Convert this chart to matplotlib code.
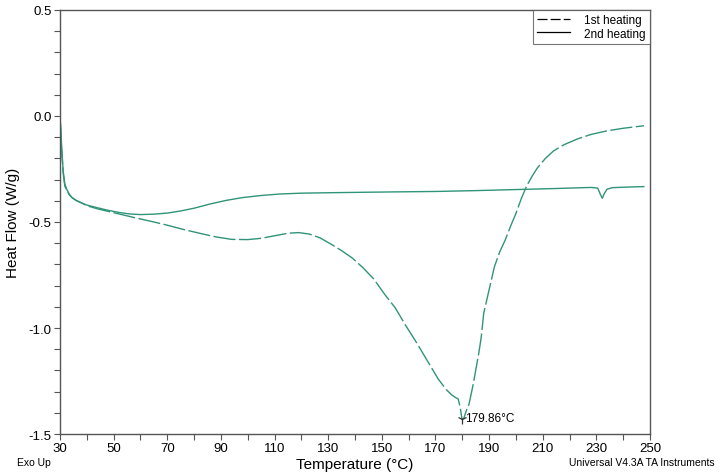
import numpy as np
import matplotlib
matplotlib.use("Agg")
import matplotlib.pyplot as plt
from matplotlib.lines import Line2D
from matplotlib.ticker import MultipleLocator, FormatStrFormatter

plt.rcParams["font.family"] = ["Liberation Sans", "DejaVu Sans"]

# ── Data ─────────────────────────────────────────────────────────────────────
t_heat2 = [30.0, 30.3, 30.6, 31.2, 31.8, 32.5, 33.5, 34.5, 36, 38, 40, 44, 48, 52,
           56, 60, 65, 70, 75, 80, 86, 92, 98, 105, 112, 120, 130, 142, 155, 170,
           185, 200, 215, 228, 230.5, 231.5, 232.2, 233, 234, 236, 240, 247.7]
hf_heat2 = [0.0, -0.06, -0.14, -0.26, -0.32, -0.345, -0.37, -0.385, -0.398, -0.41,
            -0.42, -0.433, -0.445, -0.455, -0.462, -0.465, -0.463, -0.458, -0.448,
            -0.435, -0.415, -0.398, -0.385, -0.375, -0.368, -0.364, -0.362, -0.36,
            -0.358, -0.356, -0.352, -0.347, -0.342, -0.337, -0.34, -0.37, -0.388,
            -0.365, -0.345, -0.338, -0.336, -0.333]

t_heat1 = [30.0, 30.3, 30.6, 31.2, 31.8, 32.5, 33.5, 34.5, 36, 38, 40, 44, 48, 52,
           58, 64, 70, 76, 82, 88, 94, 100, 105, 110, 115, 119, 123, 127, 131, 135,
           139, 143, 147, 151, 155, 159, 163, 167, 171, 174, 176, 177.5, 178.5,
           179.3, 179.9, 180.6, 181.5, 182.5, 184, 185, 186, 187, 188, 190, 192,
           194, 196, 198, 200, 202, 204, 206, 208, 211, 214, 218, 223, 228, 234,
           240, 247.7]
hf_heat1 = [0.0, -0.07, -0.16, -0.27, -0.33, -0.35, -0.372, -0.385, -0.398, -0.41,
            -0.423, -0.438, -0.45, -0.462, -0.48, -0.497, -0.515, -0.535, -0.553,
            -0.57, -0.582, -0.583, -0.577, -0.565, -0.553, -0.55, -0.557, -0.575,
            -0.604, -0.635, -0.67, -0.716, -0.769, -0.84, -0.905, -0.99, -1.07,
            -1.155, -1.24, -1.29, -1.315, -1.328, -1.335, -1.38, -1.43, -1.425,
            -1.39, -1.36, -1.27, -1.2, -1.13, -1.05, -0.93, -0.82, -0.71, -0.64,
            -0.585, -0.52, -0.46, -0.39, -0.33, -0.285, -0.245, -0.2, -0.165,
            -0.135, -0.108, -0.087, -0.07, -0.058, -0.046]

peak_t, peak_hf = 179.86, -1.43
peak_label = "179.86°C"

x_major = [30, 50, 70, 90, 110, 130, 150, 170, 190, 210, 230, 250]
x_minor = [40, 60, 80, 100, 120, 140, 160, 180, 200, 220, 240]

LINE_COLOR = "#2f9478"

# ── Plot ─────────────────────────────────────────────────────────────────────
fig = plt.figure(figsize=(7.2, 4.77), dpi=100)
ax = fig.add_axes([0.0833, 0.088, 0.8195, 0.889])

ax.plot(t_heat1, hf_heat1, color=LINE_COLOR, lw=1.0, dashes=(16, 2.5))
ax.plot(t_heat2, hf_heat2, color=LINE_COLOR, lw=1.0)

# peak marker + label
ax.plot([peak_t], [peak_hf], marker="1", color="#333333", ms=7, mew=0.9)
ax.text(peak_t + 1.0, peak_hf + 0.005, peak_label, fontsize=8.5, va="center", ha="left")

ax.set_xlim(30, 250)
ax.set_ylim(-1.5, 0.5)
ax.set_xticks(x_major)
ax.set_xticks(x_minor, minor=True)
ax.yaxis.set_major_locator(MultipleLocator(0.5))
ax.yaxis.set_minor_locator(MultipleLocator(0.1))
ax.yaxis.set_major_formatter(FormatStrFormatter("%.1f"))
ax.tick_params(which="both", direction="out", length=4, width=0.8, color="#555555",
               labelsize=9.5, pad=2)
for sp in ax.spines.values():
    sp.set_color("#555555")
    sp.set_linewidth(1.0)

ax.set_ylabel("Heat Flow (W/g)", fontsize=11, labelpad=6)
fig.text(0.493, 0.025, "Temperature (°C)", fontsize=11, ha="center", va="center")
fig.text(0.024, 0.030, "Exo Up", fontsize=7.5, ha="left", va="center")
fig.text(0.993, 0.030, "Universal V4.3A TA Instruments", fontsize=7.5,
         ha="right", va="center")

handles = [Line2D([], [], color="black", lw=0.9, dashes=(8, 2.5)),
           Line2D([], [], color="black", lw=0.9)]
leg = ax.legend(handles, ["1st heating", "2nd heating"], loc="upper right",
                bbox_to_anchor=(1.0, 1.0), fontsize=8.5, frameon=True, fancybox=False,
                borderpad=0.35, handlelength=2.8, handletextpad=1.2, labelspacing=0.12,
                borderaxespad=0.0)
leg.get_frame().set_edgecolor("#555555")
leg.get_frame().set_linewidth(0.8)

fig.savefig("out.png", dpi=100)
